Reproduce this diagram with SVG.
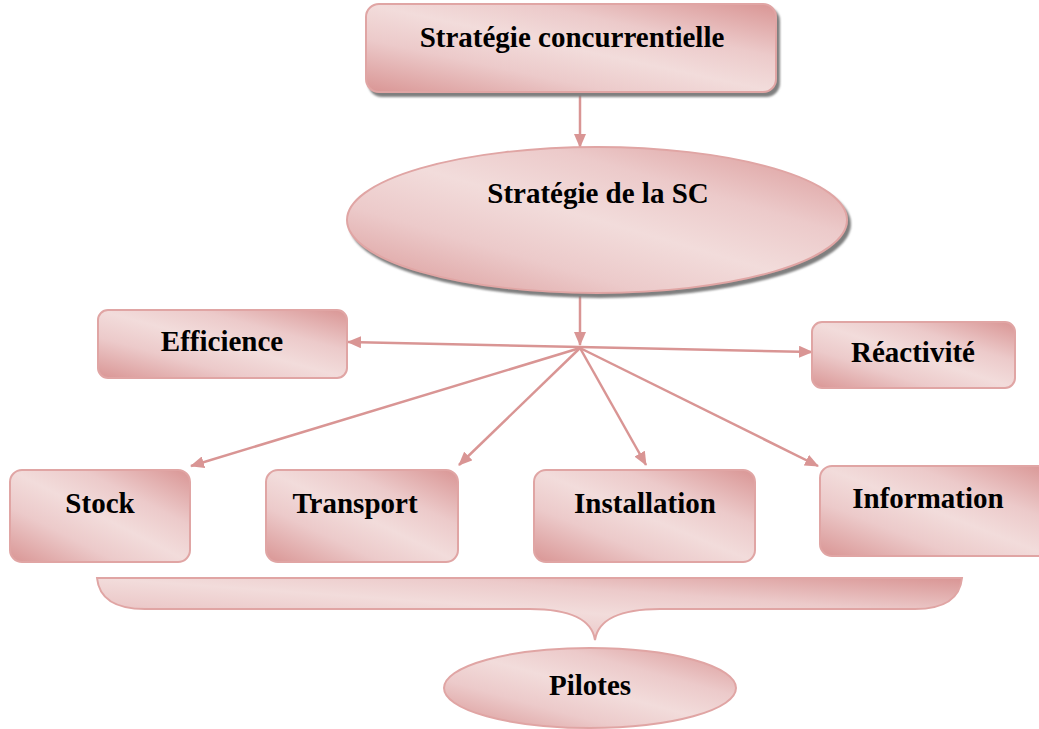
<svg xmlns="http://www.w3.org/2000/svg" width="1039" height="729" viewBox="0 0 1039 729">
<defs>
<linearGradient id="pk" x1="0" y1="1" x2="1" y2="0">
<stop offset="0" stop-color="#d99594"/>
<stop offset="0.3" stop-color="#eccaca"/>
<stop offset="0.5" stop-color="#f2dcdb"/>
<stop offset="0.7" stop-color="#eccaca"/>
<stop offset="1" stop-color="#d99594"/>
</linearGradient>
<marker id="ah" viewBox="0 0 14 12" refX="13" refY="6" markerWidth="14" markerHeight="12" markerUnits="userSpaceOnUse" orient="auto">
<path d="M0,0 L14,6 L0,12 Z" fill="#d99594"/>
</marker>
<filter id="sh" x="-5%" y="-5%" width="115%" height="120%">
<feGaussianBlur in="SourceAlpha" stdDeviation="0.8"/>
<feOffset dx="3" dy="4" result="o"/>
<feFlood flood-color="#7f7f7f"/>
<feComposite in2="o" operator="in"/>
<feMerge><feMergeNode/><feMergeNode in="SourceGraphic"/></feMerge>
</filter>
</defs>
<style>
.n{fill:url(#pk);stroke:#e0a5a4;stroke-width:2}
.t{font-family:"Liberation Serif","Times New Roman",serif;font-weight:bold;font-size:29px;fill:#000;text-anchor:middle}
.c{stroke:#d99594;stroke-width:2.5;fill:none;marker-end:url(#ah)}
</style>
<g id="connectors">
<line class="c" x1="580" y1="93" x2="580" y2="147"/>
<line class="c" x1="580" y1="296" x2="580" y2="345"/>
<line class="c" x1="580" y1="347" x2="348" y2="342"/>
<line class="c" x1="580" y1="347" x2="812" y2="352"/>
<line class="c" x1="580" y1="348" x2="191" y2="466"/>
<line class="c" x1="580" y1="348" x2="459" y2="465"/>
<line class="c" x1="580" y1="348" x2="646" y2="465"/>
<line class="c" x1="580" y1="348" x2="818" y2="466"/>
</g>
<g id="strategie-concurrentielle">
<rect class="n" x="366" y="4" width="410" height="88" rx="13" filter="url(#sh)"/>
<text class="t" x="572" y="47">Stratégie concurrentielle</text>
</g>
<g id="strategie-sc">
<ellipse class="n" cx="597" cy="220" rx="250" ry="73" filter="url(#sh)"/>
<text class="t" x="598" y="203">Stratégie de la SC</text>
</g>
<g id="efficience">
<rect class="n" x="98" y="310" width="249" height="68" rx="10"/>
<text class="t" x="222" y="351">Efficience</text>
</g>
<g id="reactivite">
<rect class="n" x="812" y="322" width="203" height="66" rx="10"/>
<text class="t" x="913" y="362">Réactivité</text>
</g>
<g id="stock">
<rect class="n" x="10" y="470" width="180" height="92" rx="12"/>
<text class="t" x="100" y="513">Stock</text>
</g>
<g id="transport">
<rect class="n" x="266" y="470" width="192" height="92" rx="12"/>
<text class="t" x="355" y="513">Transport</text>
</g>
<g id="installation">
<rect class="n" x="534" y="470" width="221" height="92" rx="12"/>
<text class="t" x="645" y="513">Installation</text>
</g>
<g id="information">
<rect class="n" x="820" y="466" width="230" height="90" rx="12"/>
<text class="t" x="928" y="508">Information</text>
</g>
<g id="accolade">
<path class="n" d="M97,578 L962,578 C960,598 945,609 915,609 L660,609 C620,609 598,620 595,640 C592,620 570,609 530,609 L145,609 C115,609 99,598 97,578 Z"/>
</g>
<g id="pilotes">
<ellipse class="n" cx="590" cy="688" rx="146" ry="40"/>
<text class="t" x="590" y="695">Pilotes</text>
</g>
</svg>
